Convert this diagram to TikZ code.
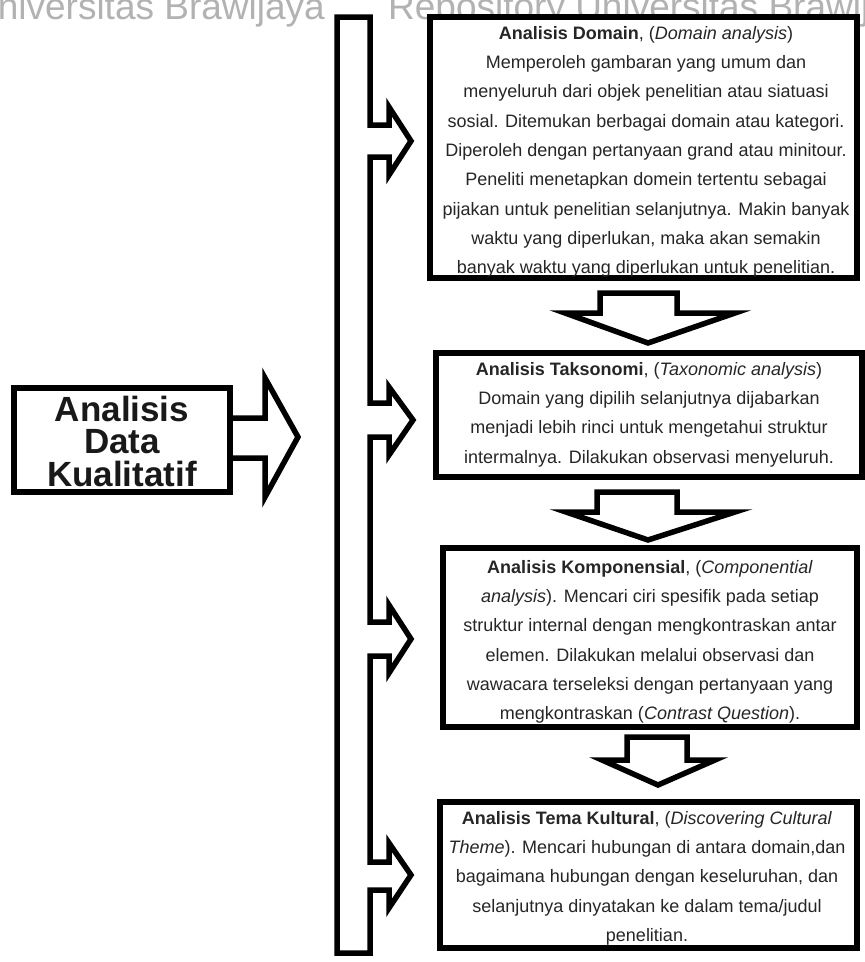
\documentclass[tikz,border=0pt]{standalone}
\usepackage{fontspec}
\setmainfont{Liberation Sans}
\begin{document}
\begin{tikzpicture}[x=1pt,y=-1pt,
  boxline/.style={draw=black,line width=5.5pt,fill=white},
  shapeline/.style={draw=black,line width=5.5pt,line join=miter,fill=white},
  bodytext/.style={align=center,inner sep=0pt,text=black!85,font=\fontsize{18}{29.3}\selectfont},
  wmark/.style={inner sep=0pt,text=black!30,font=\fontsize{37}{37}\selectfont}]
\useasboundingbox (0,0) rectangle (865,962);
\fill[white] (0,0) rectangle (865,962);
% watermark
\node[wmark,anchor=base east] (wm1) at (325,19) {Universitas Brawijaya};
\node[wmark,anchor=base west] (wm2) at (388,19) {Repository Universitas Brawijaya};
% vertical distributor bar with branch arrows
\draw[shapeline] (337,17) -- (370,17) -- (370,125) -- (389,125) -- (389,107) -- (411,141) -- (389,175) -- (389,157) -- (370,157)
 -- (370,403) -- (389,403) -- (389,387) -- (413,420) -- (389,455) -- (389,437) -- (370,437)
 -- (370,622) -- (389,622) -- (389,605) -- (411,639) -- (389,673) -- (389,656) -- (370,656)
 -- (370,862) -- (389,862) -- (389,843) -- (411,875) -- (389,908) -- (389,890) -- (370,890)
 -- (370,953) -- (337,953) -- cycle;
% left box
\node[boxline,minimum width=216pt,minimum height=104pt,inner sep=0pt] (main) at (122,440) {};
\node[align=center,inner sep=0pt,font=\fontsize{35}{32.5}\selectfont\bfseries,text=black!90] (maintxt) at ([yshift=-1pt]main.center) {Analisis\\Data\\Kualitatif};
\draw[shapeline,fill=none] (main.east |- 0,418) -- (265,418) -- (265,378) -- (298,437) -- (265,497) -- (265,458) -- (main.east |- 0,458);
% right boxes
\node[boxline,minimum width=427pt,minimum height=261pt,inner sep=0pt] (b1) at (643.5,147.5) {};
\node[boxline,minimum width=426pt,minimum height=124pt,inner sep=0pt] (b2) at (649,415) {};
\node[boxline,minimum width=414pt,minimum height=179pt,inner sep=0pt] (b3) at (650,637.5) {};
\node[boxline,minimum width=417pt,minimum height=146pt,inner sep=0pt] (b4) at (648.5,875) {};
% down arrows
\draw[shapeline] (600,293) -- (600,313) -- (565,313) -- (648,343) -- (735,313) -- (677,313) -- (677,293) -- cycle;
\draw[shapeline] (597,492) -- (597,512) -- (566,512) -- (648,540) -- (735,512) -- (677,512) -- (677,492) -- cycle;
\draw[shapeline] (627,737) -- (627,760) -- (602,760) -- (658,785) -- (715,760) -- (687,760) -- (687,737) -- cycle;
% texts
\node[bodytext,anchor=north] (t1) at (646,26) {\textbf{Analisis Domain}, (\textit{Domain analysis})\\
Memperoleh gambaran yang umum dan\\
menyeluruh dari objek penelitian atau siatuasi\\
sosial. Ditemukan berbagai domain atau kategori.\\
Diperoleh dengan pertanyaan grand atau minitour.\\
Peneliti menetapkan domein tertentu sebagai\\
pijakan untuk penelitian selanjutnya. Makin banyak\\
waktu yang diperlukan, maka akan semakin\\
banyak waktu yang diperlukan untuk penelitian.};
\node[bodytext,anchor=north] (t2) at (649,362) {\textbf{Analisis Taksonomi}, (\textit{Taxonomic analysis})\\
Domain yang dipilih selanjutnya dijabarkan\\
menjadi lebih rinci untuk mengetahui struktur\\
intermalnya. Dilakukan observasi menyeluruh.};
\node[bodytext,anchor=north] (t3) at (650,560) {\textbf{Analisis Komponensial}, (\textit{Componential}\\
\textit{analysis}). Mencari ciri spesifik pada setiap\\
struktur internal dengan mengkontraskan antar\\
elemen. Dilakukan melalui observasi dan\\
wawacara terseleksi dengan pertanyaan yang\\
mengkontraskan (\textit{Contrast Question}).};
\node[bodytext,anchor=north] (t4) at (647,811) {\textbf{Analisis Tema Kultural}, (\textit{Discovering Cultural}\\
\textit{Theme}). Mencari hubungan di antara domain,dan\\
bagaimana hubungan dengan keseluruhan, dan\\
selanjutnya dinyatakan ke dalam tema/judul\\
penelitian.};
\end{tikzpicture}
\end{document}
